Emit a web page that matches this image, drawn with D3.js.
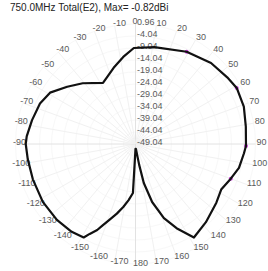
<!DOCTYPE html>
<html>
<head>
<meta charset="utf-8">
<script src="https://cdn.jsdelivr.net/npm/d3@7"></script>
<style>
  body { margin: 0; background: #fff; }
  text { font-family: "Liberation Sans", Arial, sans-serif; }
</style>
</head>
<body>
<svg id="chart" width="268" height="271"></svg>
<script>
// pattern data, angle in degrees (0 = top, clockwise) and gain in dBi
const title = "750.0MHz Total(E2), Max= -0.82dBi";
const angles = [-177, -173, -169, -165, -161, -158, -156, -153, -151, -144, -134, -122, -109, -98,
  -90, -86, -77, -67, -59, -50, -41, -28, -16, -8, -1, 11, 29, 43, 54, 61, 71, 81, 91, 95,
  103, 110, 118, 126, 138, 148, 154, 159, 164, 168, 170, 175, 180];
const gains = [-28.6, -25.5, -22.3, -19.0, -15.6, -12.5, -9.8, -7.0, -4.5, -3.8, -3.5, -3.5, -3.8, -3.7,
  -3.3, -3.6, -4.8, -5.8, -7.5, -11.9, -15.5, -20.2, -16.0, -12.4, -9.04, -7.9, -5.1, -2.9, -1.8, -0.82, -1.3, -2.5, -3.0, -3.7,
  -4.8, -6.8, -8.6, -7.4, -5.2, -3.1, -10.0, -16.0, -23.9, -32.4, -40.2, -47.0, -47.0];
const ringTicks = [0.96, -4.04, -9.04, -14.04, -19.04, -24.04, -29.04, -34.04, -39.04, -44.04, -49.04];
const angleTicks = [-170, -160, -150, -140, -130, -120, -110, -100, -90, -80, -70, -60, -50, -40, -30, -20, -10,
  0, 10, 20, 30, 40, 50, 60, 70, 80, 90, 100, 110, 120, 130, 140, 150, 160, 170, 180];
const markerAngles = [29, 61, 91, 110];

const svg = d3.select("#chart");
const cx = 135.5, cy = 144;

// radial scale: lowest ring at the centre
const r = d3.scaleLinear().domain([-49.04, 0.96]).range([0, 120]);
const rad = d => d * Math.PI / 180;

// title
svg.append("text")
  .attr("x", 10).attr("y", 11)
  .attr("font-size", 10)
  .attr("fill", "#222")
  .text(title);

const g = svg.append("g").attr("transform", `translate(${cx},${cy})`);

// grid rings, barely visible
g.selectAll(".ring")
  .data(ringTicks)
  .enter()
  .append("circle")
  .attr("class", "ring")
  .attr("r", d => r(d))
  .attr("fill", "none")
  .attr("stroke", "#f8f8f8");

// spokes every 10 degrees
g.selectAll(".spoke")
  .data(angleTicks)
  .enter()
  .append("line")
  .attr("class", "spoke")
  .attr("x1", 0).attr("y1", 0)
  .attr("x2", d => r(0.96) * Math.sin(rad(d)))
  .attr("y2", d => -r(0.96) * Math.cos(rad(d)))
  .attr("stroke", d => d % 90 === 0 ? "#e2e2e2" : "#f1f1f1")
  .attr("stroke-width", 1);

// ring labels going up from the centre
g.selectAll(".rlabel")
  .data(ringTicks)
  .enter()
  .append("text")
  .attr("class", "rlabel")
  .attr("x", 1.5)
  .attr("y", d => -r(d) - 2)
  .attr("dominant-baseline", "central")
  .attr("font-size", 9)
  .attr("fill", "#5a5a5a")
  .text(d => d.toFixed(2));

// angle labels round the outside
const labR = 121;
g.selectAll(".alabel")
  .data(angleTicks)
  .enter()
  .append("text")
  .attr("class", "alabel")
  .attr("x", d => d === 0 ? 2 : 5 + labR * Math.sin(rad(d)))
  .attr("y", d => -2 - labR * Math.cos(rad(d)))
  .attr("text-anchor", d => d === 0 ? "end" : "middle")
  .attr("dominant-baseline", "central")
  .attr("font-size", 9)
  .attr("fill", "#5a5a5a")
  .text(d => d);

const pts = angles.map((a, i) => [rad(a), r(gains[i])]);

// small magenta markers sitting under the trace
g.selectAll(".mark")
  .data(markerAngles)
  .enter()
  .append("circle")
  .attr("class", "mark")
  .attr("cx", d => r(gains[angles.indexOf(d)]) * Math.sin(rad(d)))
  .attr("cy", d => -r(gains[angles.indexOf(d)]) * Math.cos(rad(d)))
  .attr("r", 2)
  .attr("fill", "#d040e0");

const line = d3.lineRadial()
  .angle(d => d[0])
  .radius(d => d[1])
  .curve(d3.curveLinearClosed);

g.append("path")
  .attr("d", line(pts))
  .attr("fill", "none")
  .attr("stroke", "#111")
  .attr("stroke-width", 2.2)
  .attr("stroke-linejoin", "round");
</script>
</body>
</html>
